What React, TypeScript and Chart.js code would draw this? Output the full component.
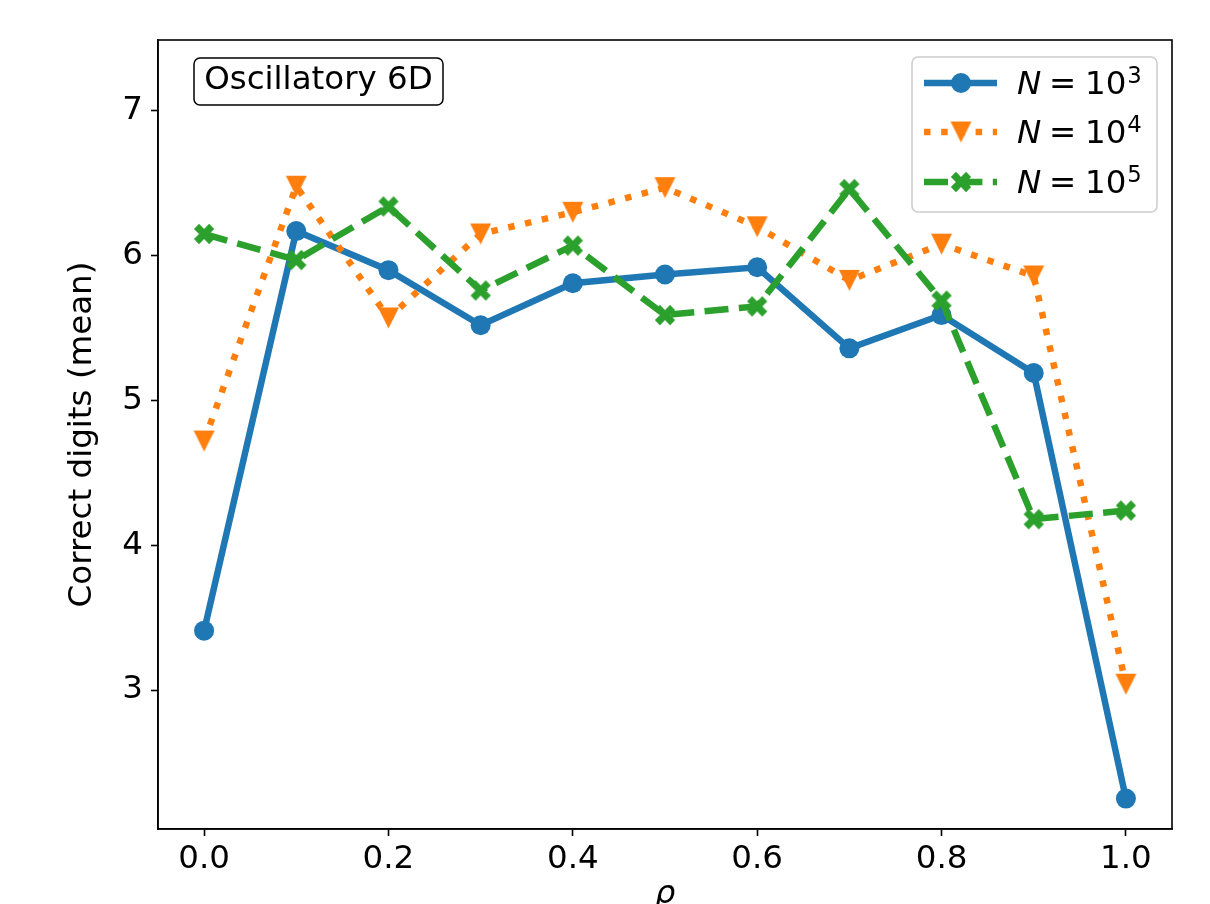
import React, { useEffect, useRef } from "react";
import { Chart, registerables } from "chart.js";

Chart.register(...registerables);

const rhoValues = [0.0, 0.1, 0.2, 0.3, 0.4, 0.5, 0.6, 0.7, 0.8, 0.9, 1.0];
const digitsN1e3 = [3.41, 6.17, 5.90, 5.52, 5.81, 5.87, 5.92, 5.36, 5.59, 5.19, 2.25];
const digitsN1e4 = [4.72, 6.48, 5.57, 6.15, 6.30, 6.47, 6.20, 5.83, 6.08, 5.86, 3.04];
const digitsN1e5 = [6.15, 5.97, 6.34, 5.76, 6.07, 5.59, 5.65, 6.46, 5.69, 4.18, 4.24];
const xTickValues = [0.0, 0.2, 0.4, 0.6, 0.8, 1.0];
const yTickValues = [3, 4, 5, 6, 7];
const seriesExponents = ["3", "4", "5"];
const seriesColors = ["#1f77b4", "#ff7f0e", "#2ca02c"];

const FONT = '"DejaVu Sans", "Liberation Sans", sans-serif';
const FS = 32.5;
const LW = 6.5;

function makeTriangleDown(size: number, color: string) {
  const c = document.createElement("canvas");
  const w = Math.ceil(size) + 2;
  c.width = w;
  c.height = w;
  const ctx = c.getContext("2d")!;
  const h = size / 2;
  ctx.translate(w / 2, w / 2);
  ctx.beginPath();
  ctx.moveTo(-h, -h);
  ctx.lineTo(h, -h);
  ctx.lineTo(0, h);
  ctx.closePath();
  ctx.fillStyle = color;
  ctx.fill();
  return c;
}

function makeFilledX(size: number, color: string) {
  const c = document.createElement("canvas");
  const w = Math.ceil(size) + 2;
  c.width = w;
  c.height = w;
  const ctx = c.getContext("2d")!;
  const pts = [
    [-1, -3], [1, -3], [1, -1], [3, -1], [3, 1], [1, 1],
    [1, 3], [-1, 3], [-1, 1], [-3, 1], [-3, -1], [-1, -1],
  ];
  ctx.translate(w / 2, w / 2);
  ctx.rotate(Math.PI / 4);
  ctx.beginPath();
  pts.forEach(([px, py], i) => {
    const x = (px / 6) * size;
    const y = (py / 6) * size;
    if (i === 0) ctx.moveTo(x, y);
    else ctx.lineTo(x, y);
  });
  ctx.closePath();
  ctx.fillStyle = color;
  ctx.fill();
  return c;
}

export default function App() {
  const canvasRef = useRef<HTMLCanvasElement | null>(null);

  useEffect(() => {
    const canvas = canvasRef.current;
    if (!canvas) return;

    const tri = makeTriangleDown(21, seriesColors[1]);
    const xMark = makeFilledX(21.5, seriesColors[2]);

    const toPts = (arr: number[]) => rhoValues.map((x, i) => ({ x, y: arr[i] }));

    const decor = {
      id: "decor",
      afterDraw(chart: any) {
        const { ctx, chartArea: a } = chart;
        ctx.save();
        // spines
        ctx.strokeStyle = "#000";
        ctx.lineWidth = 1.6;
        ctx.strokeRect(a.left, a.top, a.right - a.left, a.bottom - a.top);

        // axis titles
        ctx.fillStyle = "#000";
        ctx.font = `italic ${FS}px ${FONT}`;
        ctx.textAlign = "center";
        ctx.textBaseline = "alphabetic";
        ctx.fillText("ρ", (a.left + a.right) / 2, 903);

        ctx.save();
        ctx.translate(91, (a.top + a.bottom) / 2);
        ctx.rotate(-Math.PI / 2);
        ctx.font = `${FS}px ${FONT}`;
        ctx.textAlign = "center";
        ctx.textBaseline = "alphabetic";
        ctx.fillText("Correct digits (mean)", 0, 0);
        ctx.restore();

        // annotation box
        ctx.beginPath();
        ctx.roundRect(194, 58, 249, 47, 6);
        ctx.fillStyle = "#fff";
        ctx.fill();
        ctx.strokeStyle = "#000";
        ctx.lineWidth = 1.5;
        ctx.stroke();
        ctx.fillStyle = "#000";
        ctx.font = `${FS}px ${FONT}`;
        ctx.textAlign = "center";
        ctx.textBaseline = "alphabetic";
        ctx.fillText("Oscillatory 6D", 318.5, 89);

        // legend
        ctx.beginPath();
        ctx.roundRect(912, 57, 245, 155, 6);
        ctx.fillStyle = "rgba(255,255,255,0.8)";
        ctx.fill();
        ctx.strokeStyle = "#cccccc";
        ctx.lineWidth = 1.5;
        ctx.stroke();

        const rowY = [83, 132, 182];
        const dashes = [[], [6.5, 10.7], [24, 10.4]];
        for (let i = 0; i < 3; i++) {
          const y = rowY[i];
          ctx.save();
          ctx.strokeStyle = seriesColors[i];
          ctx.lineWidth = LW;
          ctx.lineCap = "butt";
          ctx.setLineDash(dashes[i]);
          ctx.beginPath();
          ctx.moveTo(924, y);
          ctx.lineTo(997, y);
          ctx.stroke();
          ctx.restore();
          const mx = 961;
          if (i === 0) {
            ctx.beginPath();
            ctx.arc(mx, y, 10, 0, Math.PI * 2);
            ctx.fillStyle = seriesColors[0];
            ctx.fill();
          } else {
            const img = i === 1 ? tri : xMark;
            ctx.drawImage(img, mx - img.width / 2, y - img.height / 2);
          }
          // label: N = 10^k
          ctx.fillStyle = "#000";
          ctx.textAlign = "left";
          ctx.textBaseline = "alphabetic";
          const base = y + 11;
          ctx.font = `italic ${FS}px ${FONT}`;
          ctx.fillText("N", 1017, base);
          ctx.font = `${FS}px ${FONT}`;
          ctx.fillText("=", 1049, base);
          ctx.fillText("10", 1085, base);
          const w10 = ctx.measureText("10").width;
          ctx.font = `${FS * 0.7}px ${FONT}`;
          ctx.fillText(seriesExponents[i], 1085 + w10 + 1, base - 11);
        }
        ctx.restore();
      },
    };

    const chart = new Chart(canvas, {
      type: "line",
      data: {
        datasets: [
          {
            label: "N = 10^3",
            data: toPts(digitsN1e3),
            borderColor: seriesColors[0],
            backgroundColor: seriesColors[0],
            borderWidth: LW,
            pointStyle: "circle",
            pointRadius: 10,
            pointBorderWidth: 0,
            pointBackgroundColor: seriesColors[0],
            tension: 0,
            order: 3,
          },
          {
            label: "N = 10^4",
            data: toPts(digitsN1e4),
            borderColor: seriesColors[1],
            backgroundColor: seriesColors[1],
            borderWidth: LW,
            borderDash: [6.5, 10.7],
            borderCapStyle: "butt",
            pointStyle: tri as any,
            pointRadius: 10,
            tension: 0,
            order: 2,
          },
          {
            label: "N = 10^5",
            data: toPts(digitsN1e5),
            borderColor: seriesColors[2],
            backgroundColor: seriesColors[2],
            borderWidth: LW,
            borderDash: [24, 10.4],
            borderCapStyle: "butt",
            pointStyle: xMark as any,
            pointRadius: 10,
            tension: 0,
            order: 1,
          },
        ],
      },
      options: {
        responsive: false,
        animation: false,
        layout: { padding: { left: 0, top: 40, right: 38, bottom: 0 } },
        plugins: {
          legend: { display: false },
          tooltip: { enabled: false },
        },
        scales: {
          x: {
            type: "linear",
            min: -0.05,
            max: 1.05,
            afterBuildTicks: (s: any) => {
              s.ticks = xTickValues.map((v) => ({ value: v }));
            },
            afterFit: (s: any) => {
              s.height = 75;
            },
            ticks: {
              autoSkip: false,
              maxRotation: 0,
              padding: 4,
              color: "#000",
              font: { family: FONT, size: FS },
              callback: (v: any) => Number(v).toFixed(1),
            },
            grid: {
              drawOnChartArea: false,
              drawTicks: true,
              tickLength: 7,
              tickWidth: 1.6,
              tickColor: "#000",
            },
            border: { display: true, color: "#000", width: 1.6 },
          },
          y: {
            type: "linear",
            min: 2.04,
            max: 7.49,
            afterBuildTicks: (s: any) => {
              s.ticks = yTickValues.map((v) => ({ value: v }));
            },
            afterFit: (s: any) => {
              s.width = 158;
            },
            ticks: {
              autoSkip: false,
              padding: 8,
              color: "#000",
              font: { family: FONT, size: FS },
              callback: (v: any) => String(v),
            },
            grid: {
              drawOnChartArea: false,
              drawTicks: true,
              tickLength: 7,
              tickWidth: 1.6,
              tickColor: "#000",
            },
            border: { display: true, color: "#000", width: 1.6 },
          },
        },
      },
      plugins: [decor],
    });

    return () => chart.destroy();
  }, []);

  return (
    <div style={{ position: "absolute", left: 0, top: 0, width: 1210, height: 904, background: "#fff" }}>
      <canvas ref={canvasRef} width={1210} height={904} />
    </div>
  );
}
